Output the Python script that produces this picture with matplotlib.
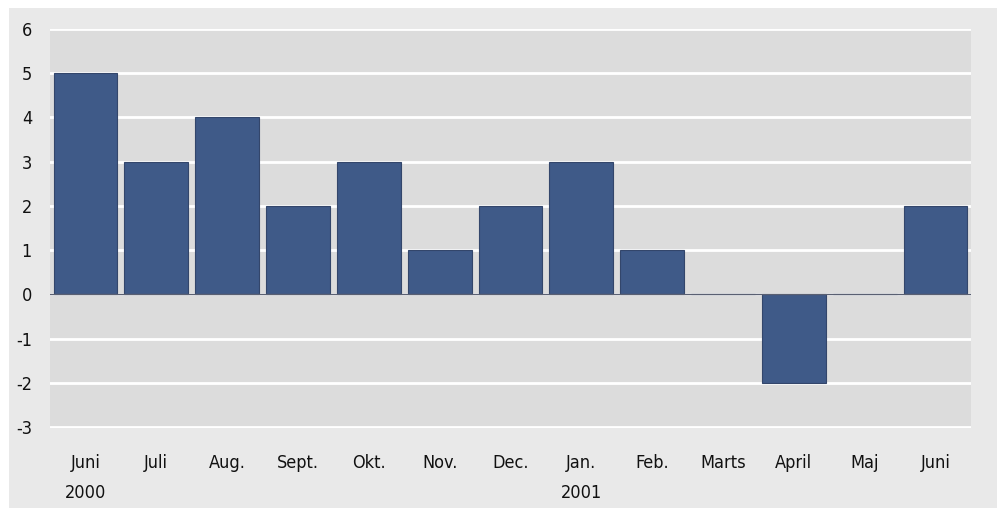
import matplotlib.pyplot as plt
from matplotlib.patches import Rectangle
from matplotlib.transforms import blended_transform_factory
import numpy as np

months = ["Juni", "Juli", "Aug.", "Sept.", "Okt.", "Nov.", "Dec.", "Jan.", "Feb.", "Marts", "April", "Maj", "Juni"]
values = [5, 3, 4, 2, 3, 1, 2, 3, 1, 0, -2, 0, 2]
years = ["2000", "2001"]
year_pos = [0, 7]

plt.rcParams['font.family'] = ['DejaVu Sans']
plt.rcParams['font.stretch'] = 'condensed'

fig = plt.figure(figsize=(9.97, 5.08), dpi=100)
fig.patch.set_facecolor("white")
fig.patches.append(Rectangle((9/997, 0), 1, 500/508, transform=fig.transFigure,
                             facecolor="#e9e9e9", edgecolor="none", zorder=-5))

ax = fig.add_axes([50/997, 80/508, 921/997, 399/508])
ax.set_zorder(2)
ax.set_facecolor("#dcdcdc")
x = np.arange(len(months))
ax.bar(x, values, width=0.9, color="#3f5a88", edgecolor="#33466b", linewidth=0.8, zorder=3)
ax.axhline(0, color="#5a6072", linewidth=1, zorder=4)

ax.set_ylim(-3.02, 6)
ax.set_xlim(-0.5, len(months) - 0.5)
ax.set_yticks(range(-3, 7))
ax.set_yticklabels([str(v) for v in range(-3, 7)])
ax.grid(axis="y", color="white", linewidth=2, zorder=1)
ax.set_axisbelow(True)
ax.set_xticks(x)
ax.set_xticklabels(months)
ax.tick_params(axis="both", length=0, labelsize=13, colors="#111111")
ax.tick_params(axis="x", pad=19)
ax.tick_params(axis="y", pad=13)
for s in ax.spines.values():
    s.set_visible(False)

tr = blended_transform_factory(ax.transData, fig.transFigure)
for yr, p in zip(years, year_pos):
    ax.text(p, 15/508, yr, transform=tr, ha="center", va="center", fontsize=13, color="#111111")

fig.savefig("out.png", dpi=100)
